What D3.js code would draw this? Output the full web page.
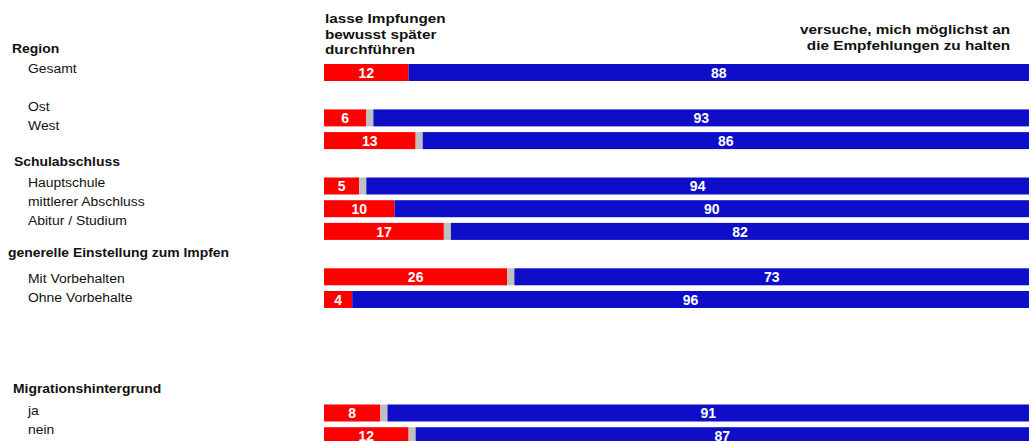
<!DOCTYPE html>
<html>
<head>
<meta charset="utf-8">
<script src="https://cdn.jsdelivr.net/npm/d3@7"></script>
<style>
  body { margin: 0; background: #fff; }
  text { font-family: "Liberation Sans", Arial, sans-serif; fill: #111; }
</style>
</head>
<body>
<div id="chart"></div>
<script>
// data
var groups = ["Region", "Schulabschluss", "generelle Einstellung zum Impfen", "Migrationshintergrund"];
var categories = ["Gesamt", "Ost", "West", "Hauptschule", "mittlerer Abschluss", "Abitur / Studium",
    "Mit Vorbehalten", "Ohne Vorbehalte", "ja", "nein"];
var categoryGroup = [0, 0, 0, 1, 1, 1, 2, 2, 3, 3];
var later = [12, 6, 13, 5, 10, 17, 26, 4, 8, 12];      // lasse Impfungen bewusst später durchführen
var noAnswer = [0, 1, 1, 1, 0, 1, 1, 0, 1, 1];         // grey remainder
var follow = [88, 93, 86, 94, 90, 82, 73, 96, 91, 87]; // versuche, mich an die Empfehlungen zu halten
var headerLeft = ["lasse Impfungen", "bewusst später", "durchführen"];
var headerRight = ["versuche, mich möglichst an", "die Empfehlungen zu halten"];

// layout
var rowSlot = [0, 2, 3, 5, 6, 7, 9, 10, 15, 16];
var groupIndent = [12, 14, 8, 13];
var groupLabelGap = [20.5, 20.5, 26, 22];  // header baseline -> first row label
var stretch = 1.16;   // source text is a bit wider than tall

var width = 1031, height = 441;

var svg = d3.select("#chart").append("svg")
    .attr("width", width)
    .attr("height", height);

var x = d3.scaleLinear().domain([0, 100]).range([324, 1029]);
var y = d3.scaleLinear().domain([0, 16]).range([64, 427.2]);
var barH = 17;

var rows = categories.map(function(c, i) {
    return { name: c, group: categoryGroup[i], slot: rowSlot[i],
             later: later[i], gap: noAnswer[i], follow: follow[i] };
});

function stretchedText(sel, px, py) {
    return sel.attr("transform", "translate(" + px + "," + py + ") scale(" + stretch + ",1)");
}

// headers above bars
headerLeft.forEach(function(t, i) {
    svg.append("text")
        .call(stretchedText, 325, 23 + i * 15.6)
        .attr("font-size", "13.2px")
        .attr("font-weight", "bold")
        .text(t);
});
headerRight.forEach(function(t, i) {
    svg.append("text")
        .call(stretchedText, 1010, 34 + i * 15.6)
        .attr("font-size", "13.2px")
        .attr("font-weight", "bold")
        .attr("text-anchor", "end")
        .text(t);
});

// group headers and row labels
groups.forEach(function(g, gi) {
    var members = rows.filter(function(r) { return r.group === gi; });
    var first = members[0].slot;
    var hy = y(first) - 11.5;
    svg.append("text")
        .call(stretchedText, groupIndent[gi], hy)
        .attr("font-size", "12px")
        .attr("font-weight", "bold")
        .text(g);
    members.forEach(function(r) {
        svg.append("text")
            .call(stretchedText, 28, hy + groupLabelGap[gi] + (r.slot - first) * 19)
            .attr("font-size", "12px")
            .text(r.name);
    });
});

// bars
var bar = svg.selectAll("g.row")
    .data(rows)
    .enter().append("g")
    .attr("class", "row")
    .attr("transform", function(d) { return "translate(0," + y(d.slot) + ")"; });

bar.append("rect")
    .attr("x", x(0))
    .attr("width", function(d) { return x(d.later) - x(0); })
    .attr("height", barH)
    .attr("fill", "#ff0000");

bar.append("rect")
    .attr("x", function(d) { return x(d.later); })
    .attr("width", function(d) { return x(d.later + d.gap) - x(d.later); })
    .attr("height", barH)
    .attr("fill", "#c0c0c0");

bar.append("rect")
    .attr("x", function(d) { return x(d.later + d.gap); })
    .attr("width", function(d) { return x(d.later + d.gap + d.follow) - x(d.later + d.gap); })
    .attr("height", barH)
    .attr("fill", "#0e0ec8");

bar.append("text")
    .attr("x", function(d) { return (x(0) + x(d.later)) / 2; })
    .attr("y", barH / 2)
    .attr("dy", "0.37em")
    .attr("text-anchor", "middle")
    .attr("font-size", "14px")
    .attr("font-weight", "bold")
    .style("fill", "#fff")
    .text(function(d) { return d.later; });

bar.append("text")
    .attr("x", function(d) { return (x(d.later + d.gap) + x(d.later + d.gap + d.follow)) / 2; })
    .attr("y", barH / 2)
    .attr("dy", "0.37em")
    .attr("text-anchor", "middle")
    .attr("font-size", "14px")
    .attr("font-weight", "bold")
    .style("fill", "#fff")
    .text(function(d) { return d.follow; });
</script>
</body>
</html>
